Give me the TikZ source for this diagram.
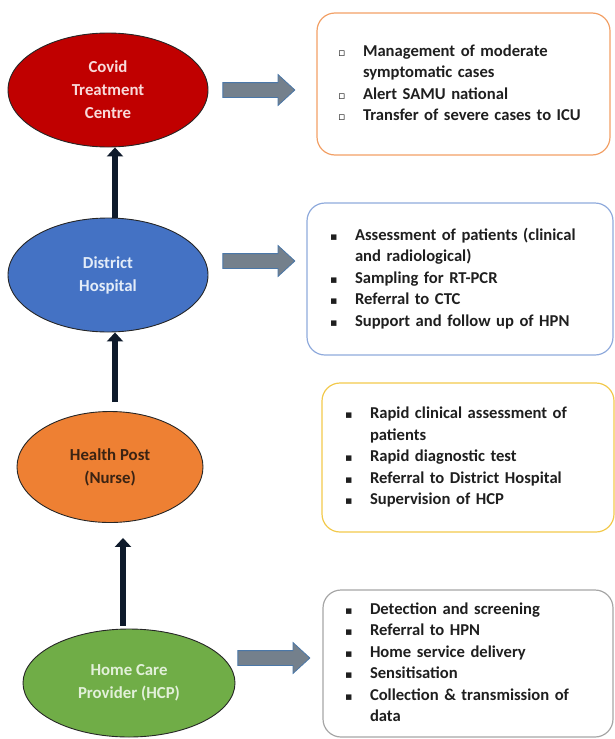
\documentclass[tikz,border=0pt]{standalone}
\usepackage{fontspec}
\setmainfont{Carlito}
\newfontfamily\cvsym{DejaVu Sans}
\usepackage{tikz}
\usetikzlibrary{shapes.geometric,shapes.arrows,arrows.meta,positioning}
\definecolor{cvred}{HTML}{C00000}
\definecolor{cvredtxt}{HTML}{F8DADA}
\definecolor{cvblue}{HTML}{4472C4}
\definecolor{cvbluetxt}{HTML}{E3ECF8}
\definecolor{cvorange}{HTML}{EE8033}
\definecolor{cvorangetxt}{HTML}{3A2313}
\definecolor{cvgreen}{HTML}{70AD47}
\definecolor{cvgreentxt}{HTML}{E2F0D9}
\definecolor{cvnavy}{HTML}{0E1A2B}
\definecolor{cvgrey}{HTML}{74808C}
\definecolor{cvedge}{HTML}{4A77A8}
\definecolor{cvgold}{HTML}{F2C94C}
\definecolor{cvtext}{HTML}{1F1F1F}
\newcommand{\cvfull}{\makebox[25pt][l]{\cvsym\fontsize{11}{11}\selectfont ▪}}
\newcommand{\cvhollow}{\makebox[25pt][l]{\cvsym\fontsize{11}{11}\selectfont ▫}}

\begin{document}
\begin{tikzpicture}[x=1pt, y=-1pt,
  level/.style={ellipse, draw=black!85, line width=0.9pt, inner sep=0pt, align=center,
    font={\fontsize{16.8}{23}\selectfont\bfseries}},
  infobox/.style={draw, rounded corners=18pt, line width=1.2pt, inner ysep=0pt, text=cvtext,
    font={\fontsize{16.6}{21.5}\selectfont\bfseries}},
  uparrow/.style={cvnavy, line width=6.5pt, -{Triangle[width=16pt,length=9pt]}},
  sidearrow/.style={single arrow, draw=cvedge, fill=cvgrey, line width=0.8pt, inner xsep=0pt,
    inner ysep=7pt, single arrow head extend=8pt, single arrow tip angle=85, minimum height=72pt}]
  \useasboundingbox (0,0) rectangle (614,739);
  % the four levels of care
  \node[level, fill=cvred, text=cvredtxt, minimum width=200pt, minimum height=114pt] (ctc) at (108,90) {Covid\\Treatment\\Centre};
  \node[level, fill=cvblue, text=cvbluetxt, minimum width=200pt, minimum height=114pt] (dh) at (108,275) {District\\Hospital};
  \node[level, fill=cvorange, text=cvorangetxt, minimum width=186pt, minimum height=111pt] (hp) at (110,467) {Health Post\\(Nurse)};
  \node[level, fill=cvgreen, text=cvgreentxt, minimum width=212pt, minimum height=108pt] (hcp) at (129,683) {Home Care\\Provider (HCP)};
  % referral upwards
  \draw[uparrow] ([xshift=7pt]dh.north) -- ([xshift=7pt]ctc.south);
  \draw[uparrow] ([xshift=5pt,yshift=9pt]hp.north) -- ([xshift=7pt]dh.south);
  \draw[uparrow] ([xshift=-6pt,yshift=3pt]hcp.north) -- ([xshift=13pt,yshift=-15pt]hp.south);
  % tasks of each level
  \node[infobox, draw=cvorange!75, text width=251pt, inner xsep=21pt, minimum height=142pt] (ctcbox) at (463.5,84) {%
    \begin{tabular}{@{}l@{}l@{}}
      \cvhollow & Management of moderate\\
                & symptomatic cases\\
      \cvhollow & Alert SAMU national\\
      \cvhollow & Transfer of severe cases to ICU
    \end{tabular}};
  \node[infobox, draw=cvblue!60, text width=260pt, inner xsep=23pt, minimum height=152pt] (dhbox) at (460,279) {%
    \begin{tabular}{@{}l@{}l@{}}
      \cvfull & Assessment of patients (clinical\\
              & and radiological)\\
      \cvfull & Sampling for RT-PCR\\
      \cvfull & Referral to CTC\\
      \cvfull & Support and follow up of HPN
    \end{tabular}};
  \node[infobox, draw=cvgold, text width=246pt, inner xsep=23pt, minimum height=149pt] (hpbox) at (468,457.5) {%
    \begin{tabular}{@{}l@{}l@{}}
      \cvfull & Rapid clinical assessment of\\
              & patients\\
      \cvfull & Rapid diagnostic test\\
      \cvfull & Referral to District Hospital\\
      \cvfull & Supervision of HCP
    \end{tabular}};
  \node[infobox, draw=black!35, text width=246pt, inner xsep=22pt, minimum height=147pt] (hcpbox) at (468,663.5) {%
    \begin{tabular}{@{}l@{}l@{}}
      \cvfull & Detection and screening\\
      \cvfull & Referral to HPN\\
      \cvfull & Home service delivery\\
      \cvfull & Sensitisation\\
      \cvfull & Collection \& transmission of\\
              & data
    \end{tabular}};
  % grey arrows to the task boxes
  \node[sidearrow, right=14pt of ctc.east] (ctcarrow) {};
  \node[sidearrow, right=14pt of dh.east, yshift=14pt] (dharrow) {};
  \node[sidearrow, right=2pt of hcp.east, yshift=25pt] (hcparrow) {};
\end{tikzpicture}
\end{document}
